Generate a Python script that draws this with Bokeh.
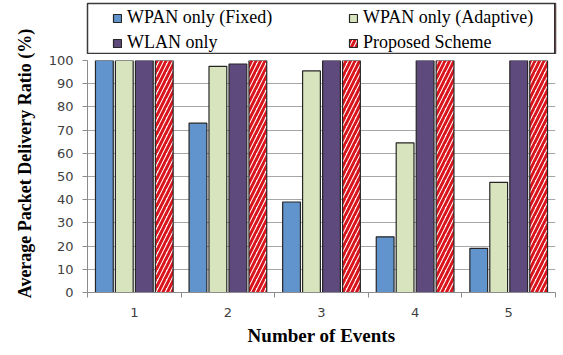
from bokeh.plotting import figure
from bokeh.layouts import column, row
from bokeh.models import ColumnDataSource, Legend, LegendItem, FixedTicker, Range1d, Title
from bokeh.embed import file_html
from bokeh.resources import INLINE

# Number of events on the x axis
events = [1, 2, 3, 4, 5]
event_labels = ["1", "2", "3", "4", "5"]

# Average packet delivery ratio (%) per scheme
wpan_fixed = [100, 73, 39, 24, 19]
wpan_adaptive = [100, 97.5, 95.5, 64.5, 47.5]
wlan_only = [100, 98.5, 100, 100, 100]
proposed = [100, 100, 100, 100, 100]

series_names = ["WPAN only (Fixed)", "WPAN only (Adaptive)", "WLAN only", "Proposed Scheme"]
y_ticks = list(range(0, 101, 10))

bar_width = 0.19
offsets = [-0.32, -0.107, 0.107, 0.32]
styles = [
    dict(fill_color="#6193CC"),
    dict(fill_color="#D7E4BD"),
    dict(fill_color="#5E4A7C"),
    dict(fill_color="white", hatch_pattern="/", hatch_color="#D9141C",
         hatch_scale=9, hatch_weight=3),
]
outline = dict(line_color="#262626", line_width=1.2)
tick_font = dict(major_label_text_font="DejaVu Sans", major_label_text_font_size="13px",
                 major_label_text_color="#404040")
serif = "Times New Roman"

sources = [ColumnDataSource(dict(x=[e + off for e in events], top=vals))
           for vals, off in zip([wpan_fixed, wpan_adaptive, wlan_only, proposed], offsets)]

# ---- vertical axis title strip ----
ytitle = figure(width=40, height=355, x_range=Range1d(0, 1), y_range=Range1d(0, 1),
                output_backend="svg", toolbar_location=None,
                min_border_left=38, min_border_right=0, min_border_top=0, min_border_bottom=29)
ytitle.axis.visible = False
ytitle.grid.visible = False
ytitle.outline_line_color = None
ytitle.add_layout(Title(text="Average Packet Delivery Ratio (%)", align="center",
                        text_font=serif, text_font_style="bold",
                        text_font_size="18px", text_color="black", standoff=8), "left")

# ---- main chart ----
p = figure(width=523, height=301, x_range=Range1d(0.5, 5.5), y_range=Range1d(0, 100),
           output_backend="svg", toolbar_location=None,
           min_border_left=47, min_border_right=6, min_border_top=6, min_border_bottom=63)
p.outline_line_color = None

for src, st in zip(sources, styles):
    p.vbar(x="x", top="top", bottom=0, width=bar_width, source=src, **outline, **st)

p.xgrid.visible = False
p.ygrid.grid_line_color = "#A6A6A6"
p.ygrid.grid_line_width = 1
p.ygrid.ticker = FixedTicker(ticks=y_ticks)

ya = p.yaxis[0]
ya.ticker = FixedTicker(ticks=y_ticks)
ya.axis_line_color = "#8C8C8C"
ya.major_tick_line_color = "#8C8C8C"
ya.major_tick_in = 0
ya.major_tick_out = 5
ya.minor_tick_line_color = None
ya.major_label_standoff = 9
for k, v in tick_font.items():
    setattr(ya, k, v)

xa = p.xaxis[0]
xa.ticker = FixedTicker(ticks=events, minor_ticks=[e - 0.5 for e in events] + [events[-1] + 0.5])
xa.major_label_overrides = {e: lab for e, lab in zip(events, event_labels)}
xa.axis_line_color = "#8C8C8C"
xa.major_tick_line_color = None
xa.major_tick_in = 0
xa.major_tick_out = 0
xa.minor_tick_line_color = "#8C8C8C"
xa.minor_tick_in = 0
xa.minor_tick_out = 5
xa.major_label_standoff = 10
for k, v in tick_font.items():
    setattr(xa, k, v)
xa.axis_label = "Number of Events"
xa.axis_label_text_font = serif
xa.axis_label_text_font_style = "bold"
xa.axis_label_text_font_size = "19px"
xa.axis_label_text_color = "black"
xa.axis_label_standoff = 5

# ---- legend strip: framed box with two columns of entries ----
leg = figure(width=523, height=54, x_range=Range1d(-2, -1), y_range=Range1d(0, 1),
             output_backend="svg", toolbar_location=None,
             min_border_left=47, min_border_right=8, min_border_top=3, min_border_bottom=1)
leg.axis.visible = False
leg.grid.visible = False
leg.outline_line_color = "#3A3A3A"
leg.outline_line_width = 1.5

swatches = [leg.vbar(x="x", top="top", bottom=0, width=bar_width, source=src, **outline, **st)
            for src, st in zip(sources, styles)]

# entries fill column by column: left column Fixed / WLAN, right column Adaptive / Proposed
order = [0, 2, 1, 3]
legend = Legend(
    items=[LegendItem(label=series_names[i], renderers=[swatches[i]]) for i in order],
    ncols=2, location=(25, 0), padding=0, spacing=4, margin=0,
    glyph_width=10, glyph_height=10, label_height=21, label_width=217, label_standoff=5,
    border_line_alpha=0, background_fill_alpha=0,
    label_text_font=serif, label_text_font_size="18px", label_text_color="black",
)
leg.add_layout(legend)

layout = row(ytitle, column(leg, p, spacing=0), spacing=0)
open("out.html", "w").write(file_html(layout, INLINE))
